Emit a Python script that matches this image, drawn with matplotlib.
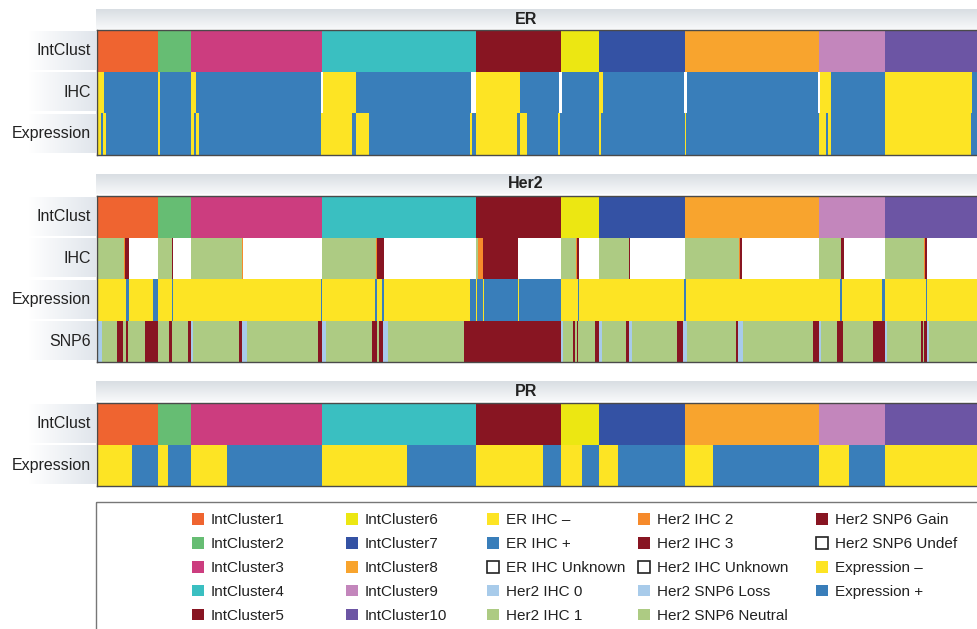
import numpy as np
import matplotlib
matplotlib.use("Agg")
import matplotlib.pyplot as plt
from matplotlib.patches import Patch, Rectangle

plt.rcParams['font.family'] = ['Liberation Sans', 'DejaVu Sans']

# ---- data: run-length encoded tracks (category, segment end in sample units) ----
n_total = 880

intclust = ['IC1', 'IC2', 'IC3', 'IC4', 'IC5', 'IC6', 'IC7', 'IC8', 'IC9', 'IC10']
intclust_end = [61, 94, 225, 379, 464, 502, 588, 722, 788, 880]

er_ihc = ['E-', 'E+', 'E-', 'E+', 'E-', 'E+', 'U', 'E-', 'E+', 'U', 'E-', 'E+',
          'U', 'E+', 'E-', 'E+', 'U', 'E+', 'U', 'E-', 'E+', 'E-', 'E+']
er_ihc_end = [7, 61, 63, 94, 99, 224, 225.5, 259, 374, 379, 423, 462,
              464.5, 502, 506, 587, 590, 721, 723, 734, 787.5, 875, 880]

er_expr = ['X-', 'X+'] * 16
er_expr_end = [4, 6, 8.5, 61, 63, 94, 97, 99, 102, 224, 255, 259, 272, 373, 375, 379,
               420, 423, 430, 461, 463, 502, 504, 587.5, 589, 722, 729, 731, 734, 788, 874, 880]

her2_ihc = ['H1', 'H2', 'H3', 'U', 'H1', 'H3', 'U', 'H1', 'H2', 'U', 'H1', 'H2',
            'H3', 'U', 'H1', 'H2', 'H3', 'U', 'H1', 'H2', 'H3', 'U', 'H1', 'H3',
            'U', 'H1', 'H2', 'H3', 'U', 'H1', 'H3', 'U', 'H1', 'H2', 'H3', 'U']
her2_ihc_end = [27, 28.3, 32, 61.3, 74.7, 76.3, 93.7, 144.7, 145.7, 224.7, 279, 280.3,
                287, 379, 381.3, 385.7, 421.3, 464, 479, 480.3, 482.3, 502.3, 532, 533.3,
                588.3, 642, 643, 645, 722.3, 744, 747, 788.3, 827, 828.3, 830.3, 880]

her2_expr = ['X-', 'X+'] * 15 + ['X-']
her2_expr_end = [28.7, 31.7, 55.7, 61.3, 74.7, 75.7, 223.7, 225, 278, 279.7, 284.7, 287,
                 373, 379, 380.3, 385.7, 387, 420.7, 422.3, 464, 480.7, 482, 587, 588.7,
                 743, 745, 785.3, 788.3, 829, 830.3, 880]

her2_snp6 = ['L', 'N', 'G', 'N', 'G', 'N', 'G', 'N', 'G', 'N', 'G', 'L', 'N', 'G',
             'L', 'N', 'G', 'L', 'N', 'G', 'N', 'G', 'L', 'N', 'G', 'L', 'N', 'G',
             'N', 'G', 'N', 'G', 'L', 'N', 'G', 'L', 'N', 'G', 'L', 'N', 'G', 'L',
             'N', 'G', 'L', 'N', 'G', 'N', 'G', 'L', 'N', 'G', 'N', 'G', 'L', 'N']
her2_snp6_end = [4.7, 19.7, 26.3, 28.7, 31.3, 48, 61.3, 72.3, 74.7, 90.7, 93.7, 95.7, 142, 144.7,
                 150.3, 220.7, 224.7, 228.7, 275.3, 280.3, 281.7, 286.3, 290.7, 367, 464, 465.7, 475.7, 478,
                 479.7, 481.3, 498, 502.3, 504.7, 529, 531.7, 534.7, 580.3, 586.3, 589.7, 639, 641.3, 645.7,
                 716.3, 722, 724, 740.3, 746.3, 775.7, 788, 789.7, 823.7, 825.7, 827.3, 829.7, 832.3, 880]

pr_expr = ['X-', 'X+'] * 9 + ['X-']
pr_expr_end = [35.3, 61.3, 70.7, 93.7, 129.7, 224.7, 309.7, 379, 446.3, 464,
               485.3, 502.3, 520.7, 588.3, 616.3, 722, 752.3, 788, 880]

palette = {
    'IC1': '#EF6430', 'IC2': '#66BD73', 'IC3': '#CC3D7F', 'IC4': '#3ABFC1', 'IC5': '#881522',
    'IC6': '#ECE712', 'IC7': '#3452A4', 'IC8': '#F8A42E', 'IC9': '#C386BC', 'IC10': '#6C55A4',
    'E-': '#FDE424', 'E+': '#397EBA', 'U': '#FFFFFF',
    'H0': '#A8CBEA', 'H1': '#ADCB83', 'H2': '#F68A2B', 'H3': '#881522',
    'L': '#A8CBEA', 'N': '#ADCB83', 'G': '#881522',
    'X-': '#FDE424', 'X+': '#397EBA',
}

legend_cols = [
    [('IntCluster1', 'IC1'), ('IntCluster2', 'IC2'), ('IntCluster3', 'IC3'),
     ('IntCluster4', 'IC4'), ('IntCluster5', 'IC5')],
    [('IntCluster6', 'IC6'), ('IntCluster7', 'IC7'), ('IntCluster8', 'IC8'),
     ('IntCluster9', 'IC9'), ('IntCluster10', 'IC10')],
    [('ER IHC \u2013', 'E-'), ('ER IHC +', 'E+'), ('ER IHC Unknown', 'U'),
     ('Her2 IHC 0', 'H0'), ('Her2 IHC 1', 'H1')],
    [('Her2 IHC 2', 'H2'), ('Her2 IHC 3', 'H3'), ('Her2 IHC Unknown', 'U'),
     ('Her2 SNP6 Loss', 'L'), ('Her2 SNP6 Neutral', 'N')],
    [('Her2 SNP6 Gain', 'G'), ('Her2 SNP6 Undef', 'U'), ('Expression \u2013', 'X-'),
     ('Expression +', 'X+')],
]

sections = [
    ('ER', [('IntClust', intclust, intclust_end), ('IHC', er_ihc, er_ihc_end),
            ('Expression', er_expr, er_expr_end)]),
    ('Her2', [('IntClust', intclust, intclust_end), ('IHC', her2_ihc, her2_ihc_end),
              ('Expression', her2_expr, her2_expr_end), ('SNP6', her2_snp6, her2_snp6_end)]),
    ('PR', [('IntClust', intclust, intclust_end), ('Expression', pr_expr, pr_expr_end)]),
]

# ---- layout (pixels) ----
W, H = 977, 629
x0 = 97
header_top = [9, 174, 381]
map_top = [30, 196, 403]
row_h = 41.5

fig = plt.figure(figsize=(W / 100, H / 100), dpi=100)
bg = fig.add_axes([0, 0, 1, 1], zorder=0)
bg.set_xlim(0, W)
bg.set_ylim(H, 0)
bg.axis('off')

top_grey = np.array([0.85, 0.87, 0.89])
light = np.array([0.97, 0.975, 0.98])
vgrad = np.linspace(0, 1, 32)[:, None, None] * (light - top_grey) + top_grey
vgrad = np.repeat(vgrad, 2, axis=1)
hgrad = np.linspace(0, 1, 64)[None, :, None] * (np.array([0.88, 0.9, 0.925]) - 1.0) + 1.0
hgrad = np.repeat(hgrad, 2, axis=0)

for (title, rows), ht, mt in zip(sections, header_top, map_top):
    bg.imshow(vgrad, extent=(x0 - 1, W, ht + 20, ht), aspect='auto', origin='upper')
    bg.text(526, ht + 10, title, ha='center', va='center', fontsize=11.5,
            fontweight='bold', color='#222222')

    nrows = len(rows)
    for i, (lab, codes, ends) in enumerate(rows):
        ytop = mt + i * row_h
        bg.imshow(hgrad, extent=(28, x0 - 1, ytop + row_h - 1.5, ytop + 1.5),
                  aspect='auto', origin='upper')
        bg.text(91, ytop + row_h / 2, lab, ha='right', va='center',
                fontsize=11.5, color='#222222')

    ax = fig.add_axes([x0 / W, 1 - (mt + nrows * row_h) / H,
                       (W - x0) / W, nrows * row_h / H], zorder=2)
    for i, (lab, codes, ends) in enumerate(rows):
        ends = np.asarray(ends, dtype=float)
        lefts = np.concatenate([[0.0], ends[:-1]])
        ax.barh(i, ends - lefts, left=lefts, height=1.0,
                color=[palette[c] for c in codes], linewidth=0, antialiased=False)
    ax.set_xlim(0, n_total)
    ax.set_ylim(nrows - 0.5, -0.5)
    ax.set_xticks([])
    ax.set_yticks([])
    for s in ['left', 'top', 'bottom']:
        ax.spines[s].set_color('#4a4a4a')
        ax.spines[s].set_linewidth(1.0)
    ax.spines['right'].set_visible(False)

# legend frame
bg.add_patch(Rectangle((x0 - 1, 502), 1000, 200, fill=False, edgecolor='#777777', lw=1.0))

col_x = [192, 346, 487, 638, 816]
for cx, items in zip(col_x, legend_cols):
    handles = []
    for lab, key in items:
        if key == 'U':
            handles.append(Patch(facecolor='white', edgecolor='#222222', linewidth=1.2, label=lab))
        else:
            handles.append(Patch(facecolor=palette[key], edgecolor='none', label=lab))
    fig.legend(handles=handles, loc='upper left', bbox_to_anchor=(cx / W, 1 - 513 / H),
               frameon=False, fontsize=11, handlelength=0.8, handleheight=0.8,
               handletextpad=0.45, labelspacing=0.64, borderpad=0, borderaxespad=0,
               labelcolor='#222222')

fig.savefig('out.png', dpi=100)
